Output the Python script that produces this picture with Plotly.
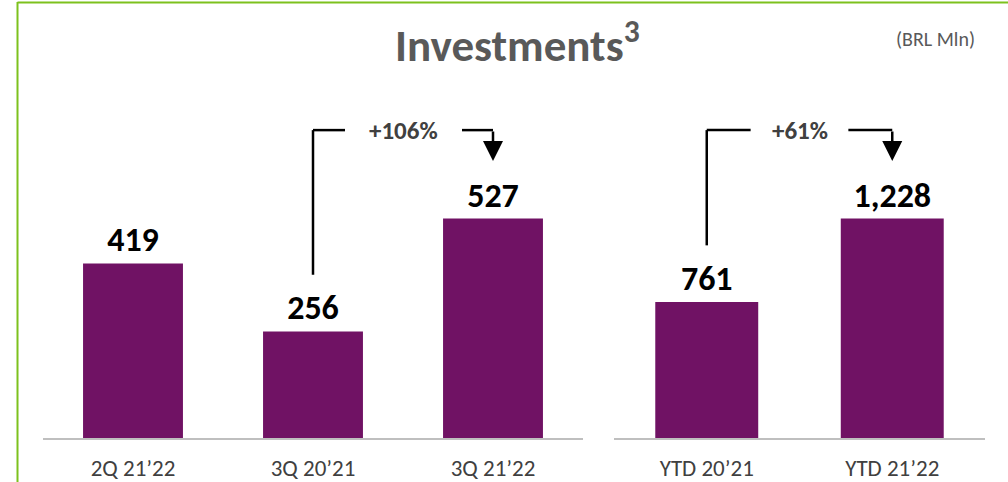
import plotly.graph_objects as go

# ---- data ----
left_categories = ["2Q 21’22", "3Q 20’21", "3Q 21’22"]
left_values = [419, 256, 527]
right_categories = ["YTD 20’21", "YTD 21’22"]
right_values = [761, 1228]
left_growth_label = "+106%"
right_growth_label = "+61%"
title_text = "Investments<sup>3</sup>"
unit_text = "(BRL Mln)"

W, H = 1008, 482
BASE = 441          # pixel y of baseline
BOTTOM_MARGIN = H - BASE
PLOT_H = BASE       # top margin 0
BAR_COLOR = "#701264"
FONT = "Carlito, Lato, 'Open Sans', sans-serif"

# pixel scales chosen so bars match reference proportions
left_px_per_unit = (BASE - 220) / max(left_values)
right_px_per_unit = (BASE - 220) / max(right_values)
left_range = PLOT_H / left_px_per_unit
right_range = PLOT_H / right_px_per_unit


def fmt(v):
    return f"{v:,}"


fig = go.Figure()
fig.add_trace(go.Bar(
    x=left_categories, y=left_values, xaxis="x", yaxis="y",
    marker=dict(color=BAR_COLOR, line=dict(width=0)),
    text=[fmt(v) for v in left_values], textposition="outside",
    textfont=dict(size=34, color="black", family=FONT, weight="bold"),
    cliponaxis=False, hoverinfo="skip",
))
fig.add_trace(go.Bar(
    x=right_categories, y=right_values, xaxis="x2", yaxis="y2",
    marker=dict(color=BAR_COLOR, line=dict(width=0)),
    text=[fmt(v) for v in right_values], textposition="outside",
    textfont=dict(size=34, color="black", family=FONT, weight="bold"),
    cliponaxis=False, hoverinfo="skip",
))

axis_common = dict(
    showgrid=False, zeroline=False, showline=True, linecolor="#BFBFBF", linewidth=2,
    ticks="outside", ticklen=8, tickcolor="rgba(0,0,0,0)",
    tickfont=dict(size=23, color="#404040", family=FONT),
)
fig.update_layout(
    width=W, height=H,
    margin=dict(l=0, r=0, t=0, b=BOTTOM_MARGIN),
    paper_bgcolor="white", plot_bgcolor="white",
    showlegend=False,
    bargap=0.445,
    font=dict(family=FONT),
    xaxis=dict(domain=[43 / W, 583 / W], anchor="y", **axis_common),
    xaxis2=dict(domain=[614 / W, 985 / W], anchor="y2", **axis_common),
    yaxis=dict(domain=[0, 1], range=[0, left_range], visible=False, anchor="x"),
    yaxis2=dict(domain=[0, 1], range=[0, right_range], visible=False, anchor="x2"),
)


def to_paper_y(py):
    return (BASE - py) / PLOT_H


# green frame
fig.add_shape(type="line", xref="paper", yref="paper",
              x0=17.5 / W, x1=17.5 / W, y0=to_paper_y(2), y1=to_paper_y(H + 5),
              line=dict(color="#7DC11D", width=2))
fig.add_shape(type="line", xref="paper", yref="paper",
              x0=17.5 / W, x1=1.01, y0=to_paper_y(2.5), y1=to_paper_y(2.5),
              line=dict(color="#7DC11D", width=2))

# title & unit
fig.add_annotation(text=title_text, xref="paper", yref="paper",
                   x=517 / W, y=to_paper_y(43), xanchor="center", yanchor="middle",
                   showarrow=False,
                   font=dict(size=45, color="#595959", family=FONT, weight="bold"))
fig.add_annotation(text=unit_text, xref="paper", yref="paper",
                   x=935 / W, y=to_paper_y(39), xanchor="center", yanchor="middle",
                   showarrow=False,
                   font=dict(size=20, color="#595959", family=FONT))


def connector(xref, yref, px_per_unit, px_per_cat, i_from, i_to, v_from, label, gap_left_px, gap_right_px):
    top_val = (BASE - 131) / px_per_unit
    # vertical start: just above the value label of the "from" bar
    start_val = v_from + 57 / px_per_unit
    tip_val = (BASE - 162) / px_per_unit
    lw = 2.5
    dx_l = gap_left_px / px_per_cat
    dx_r = gap_right_px / px_per_cat
    fig.add_shape(type="line", xref=xref, yref=yref, x0=i_from, x1=i_from,
                  y0=start_val, y1=top_val, line=dict(color="black", width=lw))
    fig.add_shape(type="line", xref=xref, yref=yref, x0=i_from, x1=i_from + dx_l,
                  y0=top_val, y1=top_val, line=dict(color="black", width=lw))
    fig.add_shape(type="line", xref=xref, yref=yref, x0=i_to - dx_r, x1=i_to,
                  y0=top_val, y1=top_val, line=dict(color="black", width=lw))
    fig.add_annotation(xref=xref, yref=yref, x=i_to, y=tip_val,
                       axref=xref, ayref=yref, ax=i_to, ay=top_val,
                       showarrow=True, arrowhead=2, arrowsize=1.6, arrowwidth=lw,
                       arrowcolor="black", text="")
    mid = (i_from + dx_l + i_to - dx_r) / 2
    fig.add_annotation(xref=xref, yref=yref, x=mid, y=top_val, text=label,
                       xanchor="center", yanchor="middle", showarrow=False,
                       font=dict(size=25, color="#404040", family=FONT, weight="bold"))


connector("x", "y", left_px_per_unit, 180, 1, 2, left_values[1], left_growth_label, 32, 31)
connector("x2", "y2", right_px_per_unit, 186, 0, 1, right_values[0], right_growth_label, 44, 44)

fig.write_html("out.html", config={"displayModeBar": False},
               post_script="document.body.style.margin='0';")
